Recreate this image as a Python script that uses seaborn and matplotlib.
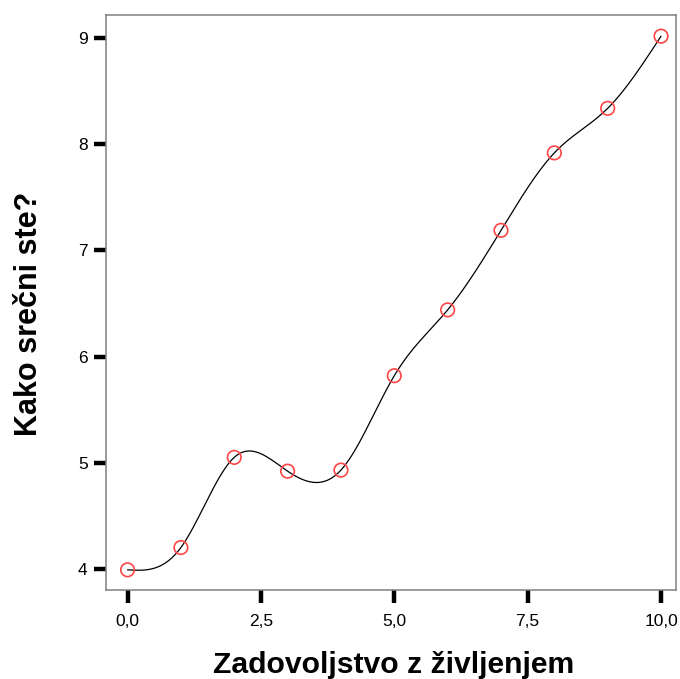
import numpy as np
import pandas as pd
import seaborn as sns
import matplotlib
matplotlib.use("Agg")
import matplotlib.pyplot as plt

# satisfaction with life (x) vs. mean happiness (y)
zadovoljstvo = [0, 1, 2, 3, 4, 5, 6, 7, 8, 9, 10]
srecni = [3.99, 4.20, 5.05, 4.92, 4.93, 5.82, 6.44, 7.19, 7.92, 8.34, 9.02]
x_ticks = [0.0, 2.5, 5.0, 7.5, 10.0]
x_tick_labels = ["0,0", "2,5", "5,0", "7,5", "10,0"]
y_ticks = [4, 5, 6, 7, 8, 9]


def natural_spline(x, y, n=300):
    # natural cubic spline through the points, used for the fit line
    x = np.asarray(x, float)
    y = np.asarray(y, float)
    k = len(x)
    h = np.diff(x)
    A = np.zeros((k, k))
    b = np.zeros(k)
    A[0, 0] = 1
    A[-1, -1] = 1
    for i in range(1, k - 1):
        A[i, i - 1] = h[i - 1]
        A[i, i] = 2 * (h[i - 1] + h[i])
        A[i, i + 1] = h[i]
        b[i] = 3 * ((y[i + 1] - y[i]) / h[i] - (y[i] - y[i - 1]) / h[i - 1])
    c = np.linalg.solve(A, b)
    xs = np.linspace(x[0], x[-1], n)
    idx = np.clip(np.searchsorted(x, xs) - 1, 0, k - 2)
    dx = xs - x[idx]
    hi = h[idx]
    bi = (y[idx + 1] - y[idx]) / hi - hi * (2 * c[idx] + c[idx + 1]) / 3
    di = (c[idx + 1] - c[idx]) / (3 * hi)
    ys = y[idx] + bi * dx + c[idx] * dx ** 2 + di * dx ** 3
    return xs, ys


df = pd.DataFrame({"x": zadovoljstvo, "y": srecni})
sx, sy = natural_spline(zadovoljstvo, srecni)
fit = pd.DataFrame({"x": sx, "y": sy})

sns.set_style("white")
plt.rcParams["font.family"] = ["Liberation Sans", "DejaVu Sans"]

fig = plt.figure(figsize=(6.8, 6.79), dpi=100)
ax = fig.add_axes([0.1554, 0.1311, 0.8387, 0.8475])

sns.lineplot(data=fit, x="x", y="y", color="black", linewidth=0.9, ax=ax)
sns.scatterplot(data=df, x="x", y="y", marker="o", s=95, facecolor="none",
                edgecolor="#ff4545", linewidth=1.2, ax=ax, zorder=3)

ax.set_xlim(-0.41, 10.28)
ax.set_ylim(3.80, 9.224)
ax.set_xticks(x_ticks)
ax.set_xticklabels(x_tick_labels)
ax.set_yticks(y_ticks)
ax.tick_params(axis="both", bottom=True, left=True, direction="out",
               length=9, width=3.2, color="black", labelcolor="black",
               labelsize=12.5, pad=4)
ax.tick_params(axis="x", pad=8)
for s in ax.spines.values():
    s.set_color("#808080")
    s.set_linewidth(1.1)

ax.set_xlabel("Zadovoljstvo z življenjem", fontsize=21.7, fontweight="bold",
              color="black")
ax.set_ylabel("Kako srečni ste?", fontsize=22, fontweight="bold",
              color="black")
ax.xaxis.label.set_va("baseline")
ax.xaxis.set_label_coords(0.5055, -0.1443)
ax.yaxis.label.set_va("center")
ax.yaxis.set_label_coords(-0.1345, 0.48)

fig.savefig("out.png", dpi=100)
